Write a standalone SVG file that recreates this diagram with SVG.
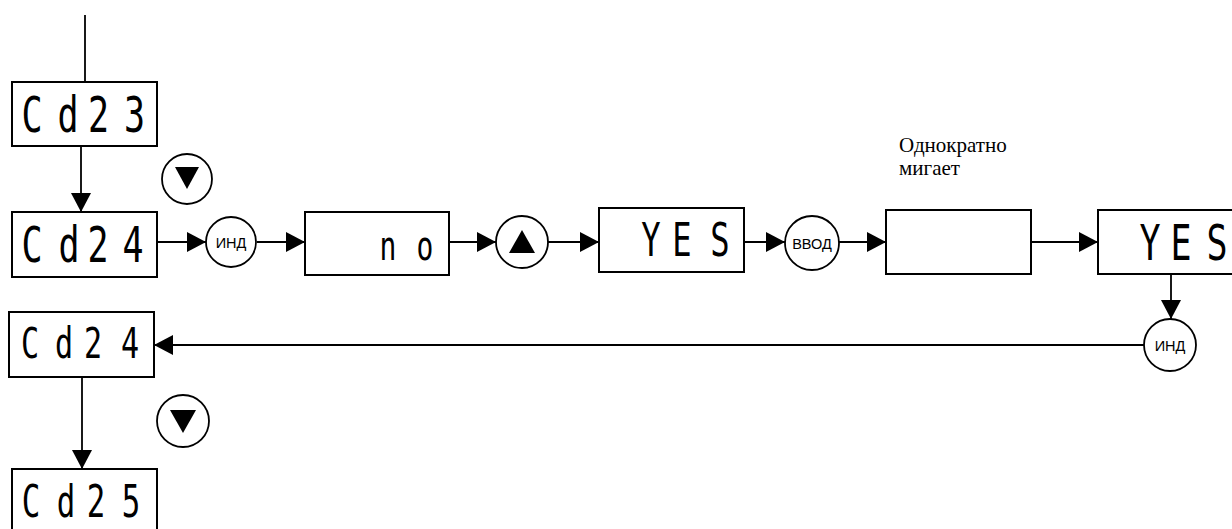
<svg xmlns="http://www.w3.org/2000/svg" width="1232" height="529" viewBox="0 0 1232 529">
<defs>
<marker id="arr" markerUnits="userSpaceOnUse" markerWidth="20" markerHeight="20" refX="19" refY="10" orient="auto">
<path d="M0,0 L19,10 L0,20 Z" fill="#000"/>
</marker>
<style>
.box{fill:#fff;stroke:#000;stroke-width:2}
.btn{fill:#fff;stroke:#000;stroke-width:1.8}
.seg{font-family:"DejaVu Sans Mono","Liberation Mono",monospace;fill:#000;text-anchor:middle}
.lbl{font-family:"Liberation Sans","DejaVu Sans",sans-serif;font-size:14.5px;fill:#000;text-anchor:middle}
.note{font-family:"Liberation Serif","DejaVu Serif",serif;font-size:21px;fill:#000}
.ln{fill:none;stroke:#000;stroke-width:1.8}
.ar{fill:none;stroke:#000;stroke-width:1.8;marker-end:url(#arr)}
</style>
</defs>
<rect width="1232" height="529" fill="#fff"/>

<g id="connectors">
<line class="ln" x1="85" y1="15" x2="85" y2="82"/>
<line class="ar" x1="81" y1="146" x2="81" y2="212"/>
<line class="ar" x1="157" y1="242" x2="206" y2="242"/>
<line class="ar" x1="257" y1="242" x2="305" y2="242"/>
<line class="ar" x1="449" y1="242" x2="496" y2="242"/>
<line class="ar" x1="548" y1="242" x2="599" y2="242"/>
<line class="ar" x1="744" y1="242" x2="785" y2="242"/>
<line class="ar" x1="839" y1="242" x2="886" y2="242"/>
<line class="ar" x1="1031" y1="242" x2="1098" y2="242"/>
<line class="ar" x1="1171" y1="274" x2="1171" y2="319"/>
<line class="ar" x1="1144" y1="345" x2="154" y2="345"/>
<line class="ar" x1="82" y1="377" x2="82" y2="469"/>
</g>

<g id="cd23">
<rect class="box" x="12" y="82" width="145" height="64"/>
<text class="seg" font-size="50" transform="scale(0.7,1)" x="45.7 97.1 140.7 192.1" y="132">Cd23</text>
</g>

<g id="btn-down-1">
<circle class="btn" cx="187" cy="179" r="25"/>
<path d="M175,167 L199,167 L187,189 Z" fill="#000"/>
</g>

<g id="cd24a">
<rect class="box" x="12" y="212" width="145" height="65"/>
<text class="seg" font-size="50" transform="scale(0.7,1)" x="45.7 98.6 140 190" y="262">Cd24</text>
</g>

<g id="btn-ind-1">
<circle class="btn" cx="231" cy="242" r="25"/>
<text class="lbl" x="231" y="247.5">ИНД</text>
</g>

<g id="no">
<rect class="box" x="305" y="212" width="144" height="63"/>
<text class="seg" font-size="40" transform="scale(0.7,1)" x="554.3 607.1" y="260">no</text>
</g>

<g id="btn-up">
<circle class="btn" cx="522" cy="242" r="26"/>
<path d="M509,253 L535,253 L522,230 Z" fill="#000"/>
</g>

<g id="yes1">
<rect class="box" x="599" y="208" width="145" height="64"/>
<text class="seg" font-size="46" transform="scale(0.7,1)" x="930 974.3 1028.6" y="256">YES</text>
</g>

<g id="btn-enter">
<circle class="btn" cx="812" cy="243" r="27"/>
<text class="lbl" x="812" y="248.5">ВВОД</text>
</g>

<g id="blink">
<text class="note" x="899" y="152">Однократно</text>
<text class="note" x="899" y="175">мигает</text>
<rect class="box" x="886" y="210" width="145" height="64"/>
</g>

<g id="yes2">
<rect class="box" x="1098" y="210" width="145" height="64"/>
<text class="seg" font-size="50" transform="scale(0.7,1)" x="1642.9 1687.1 1738.6" y="260">YES</text>
</g>

<g id="btn-ind-2">
<circle class="btn" cx="1170" cy="345" r="26"/>
<text class="lbl" x="1170" y="350.5">ИНД</text>
</g>

<g id="cd24b">
<rect class="box" x="9" y="312" width="145" height="65"/>
<text class="seg" font-size="43" transform="scale(0.7,1)" x="42.9 91.4 132.9 185.7" y="358">Cd24</text>
</g>

<g id="btn-down-2">
<circle class="btn" cx="183" cy="421" r="26"/>
<path d="M170,410 L196,410 L183,433 Z" fill="#000"/>
</g>

<g id="cd25">
<rect class="box" x="12" y="469" width="145" height="70"/>
<text class="seg" font-size="44" transform="scale(0.7,1)" x="44.3 94.3 137.1 187.1" y="517">Cd25</text>
</g>
</svg>
